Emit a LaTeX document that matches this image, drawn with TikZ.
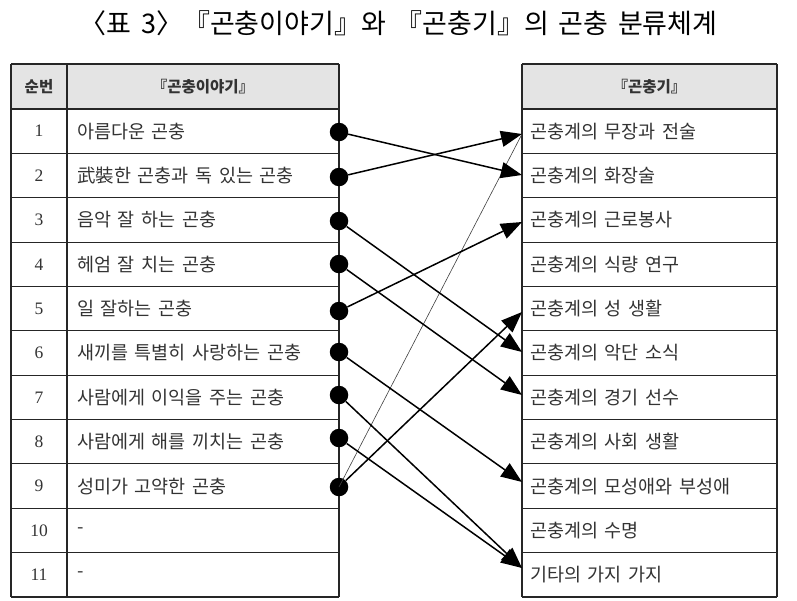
\documentclass[tikz,border=0pt]{standalone}
\usepackage{fontspec}
\setmainfont{Liberation Serif}
\newfontfamily\kr[WordSpace=2.2]{Noto Sans CJK KR}
\newfontfamily\krtitle[WordSpace=1.6]{Noto Sans CJK KR}
\usetikzlibrary{arrows.meta}
\definecolor{txt}{HTML}{333333}
\definecolor{hdrfill}{HTML}{E4E4E4}
\begin{document}
\begin{tikzpicture}[x=1pt,y=-1pt,
  gridline/.style={draw=black!85, line width=1.1pt},
  hdr/.style={fill=hdrfill},
  num/.style={font=\fontsize{17.5}{18}\selectfont, text=txt},
  item/.style={font=\kr\fontsize{18.5}{19}\selectfont, text=txt, anchor=west, inner sep=0pt},
  head/.style={font=\kr\bfseries\fontsize{15.5}{16}\selectfont, text=txt},
  dot/.style={circle, fill=black, inner sep=0pt, minimum size=18.5pt},
  link/.style={line width=1.5pt, -{Triangle[length=21pt,width=16pt]}},
  faint/.style={line width=0.6pt, draw=black!75}]

\useasboundingbox[fill=white] (0,0) rectangle (797,600);

% title
\node[font=\krtitle\fontsize{27}{27}\selectfont, text=black] (title) at (398.5,23)
  {〈표 3〉『곤충이야기』와 『곤충기』의 곤충 분류체계};

% header fills
\fill[hdr] (11,64) rectangle (339,109);
\fill[hdr] (522,64) rectangle (777,109);

% grid lines
\draw[gridline] (11,64) -- (339,64);
\draw[gridline] (522,64) -- (777,64);
\foreach \k in {0,...,11} {
  \draw[gridline] (11,{109+44.36*\k}) -- (339,{109+44.36*\k});
  \draw[gridline] (522,{109+44.36*\k}) -- (777,{109+44.36*\k});
}
\draw[gridline] (11,64) -- (11,597);
\draw[gridline] (67,64) -- (67,597);
\draw[gridline] (339,64) -- (339,597);
\draw[gridline] (522,64) -- (522,597);
\draw[gridline] (777,64) -- (777,597);

% headers
\node[head] (hnum) at (39,86.5) {순번};
\node[head] (hleft) at (203,86.5) {『곤충이야기』};
\node[head] (hright) at (649.5,86.5) {『곤충기』};

% left rows
\foreach \k/\t in {1/아름다운 곤충, 2/武裝한 곤충과 독 있는 곤충, 3/음악 잘 하는 곤충,
  4/헤엄 잘 치는 곤충, 5/일 잘하는 곤충, 6/새끼를 특별히 사랑하는 곤충,
  7/사람에게 이익을 주는 곤충, 8/사람에게 해를 끼치는 곤충, 9/성미가 고약한 곤충,
  10/-, 11/-} {
  \node[num] (n\k) at (39,{109+44.36*(\k-0.5)}) {\k};
  \node[item] (l\k) at (77,{109+44.36*(\k-0.5)}) {\t};
}

% right rows
\foreach \k/\t in {1/곤충계의 무장과 전술, 2/곤충계의 화장술, 3/곤충계의 근로봉사,
  4/곤충계의 식량 연구, 5/곤충계의 성 생활, 6/곤충계의 악단 소식,
  7/곤충계의 경기 선수, 8/곤충계의 사회 생활, 9/곤충계의 모성애와 부성애,
  10/곤충계의 수명, 11/기타의 가지 가지} {
  \node[item] (r\k) at (530,{109+44.36*(\k-0.5)}) {\t};
}

% dots on the left table edge
\node[dot] (d1) at (339,132) {};
\node[dot] (d2) at (339,177) {};
\node[dot] (d3) at (339,221) {};
\node[dot] (d4) at (339,264) {};
\node[dot] (d5) at (339,311) {};
\node[dot] (d6) at (339,352) {};
\node[dot] (d7) at (339,395) {};
\node[dot] (d8) at (339,438) {};
\node[dot] (d9) at (339,487) {};

% arrow targets on the right table edge
\coordinate (t1) at (522,134);
\coordinate (t2) at (522,175);
\coordinate (t3) at (522,222);
\coordinate (t5) at (522,312);
\coordinate (t6) at (522,352);
\coordinate (t7) at (522,395);
\coordinate (t9) at (522,482);
\coordinate (t11) at (522,568);

% connectors
\draw[faint] (d9.center) -- (t1);
\draw[link] (d1) -- (t2);
\draw[link] (d2) -- (t1);
\draw[link] (d3) -- (t6);
\draw[link] (d4) -- (t7);
\draw[link] (d5) -- (t3);
\draw[link] (d6) -- (t9);
\draw[link] (d7) -- (t11);
\draw[link] (d8) -- (t11);
\draw[link] (d9) -- (t5);
\end{tikzpicture}
\end{document}
